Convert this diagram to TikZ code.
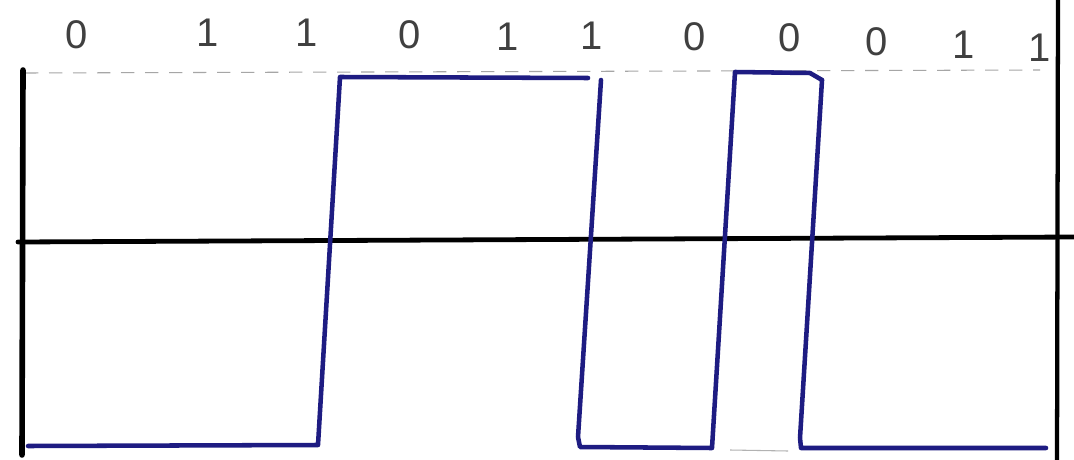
\documentclass[tikz,border=0pt]{standalone}
\usepackage{fontspec}
\setmainfont{Liberation Sans}
\begin{document}
\begin{tikzpicture}[x=0.75pt,y=-0.75pt,
  axis/.style={black, line width=3.6pt, line cap=round},
  sig/.style={draw={rgb,255:red,30;green,28;blue,130}, line width=3.4pt, line cap=round, line join=round},
  guide/.style={gray!70, line width=0.8pt, dash pattern=on 10pt off 8pt},
  bit/.style={font=\fontsize{30}{32}\selectfont, text=black!75, inner sep=0pt}]
\useasboundingbox (0,0) rectangle (1074,460);
\fill[white] (0,0) rectangle (1074,460);
% dashed guide
\coordinate (gl) at (25,73);
\coordinate (gr) at (1040,70);
\draw[guide] (gl) -- (gr);
\draw[gray!60, line width=0.8pt] (730,450) -- (788,451);
% axes
\coordinate (ly1) at (23,70);
\coordinate (ly2) at (22,455);
\draw[axis, line width=4.2pt] (ly1) -- (ly2);
\coordinate (ry1) at (1058,-5);
\coordinate (ry2) at (1057,465);
\draw[axis, line width=3.2pt] (ry1) -- (ry2);
\coordinate (hx1) at (18,242);
\coordinate (hx2) at (1076,237);
\draw[axis, line width=3.6pt] (hx1) -- (hx2);
% signal
\coordinate (s0) at (28,446);
\coordinate (s1) at (318,445);
\coordinate (s2) at (340,77);
\coordinate (s3) at (588,78);
\coordinate (s4) at (601,80);
\coordinate (s5) at (578,437);
\coordinate (s6) at (580,447);
\coordinate (s7) at (712,448);
\coordinate (s8) at (735,72);
\coordinate (s9) at (810,73);
\coordinate (s10) at (822,80);
\coordinate (s11) at (800,438);
\coordinate (s12) at (801,448);
\coordinate (s13) at (1046,448);
\draw[sig] (s0) -- (s1) -- (s2) -- (s3);
\draw[sig] (s4) -- (s5) -- (s6) -- (s7) -- (s8) -- (s9) -- (s10);
\draw[sig] (s10) -- (s11) -- (s12) -- (s13);
% bits
\node[bit] (b1) at (77,35) {0};
\node[bit] (b2) at (208,33) {1};
\node[bit] (b3) at (307,33) {1};
\node[bit] (b4) at (410,35) {0};
\node[bit] (b5) at (508,37) {1};
\node[bit] (b6) at (592,36) {1};
\node[bit] (b7) at (695,37) {0};
\node[bit] (b8) at (790,38) {0};
\node[bit] (b9) at (877,42) {0};
\node[bit] (b10) at (964,45) {1};
\node[bit] (b11) at (1040,48) {1};
\end{tikzpicture}
\end{document}
